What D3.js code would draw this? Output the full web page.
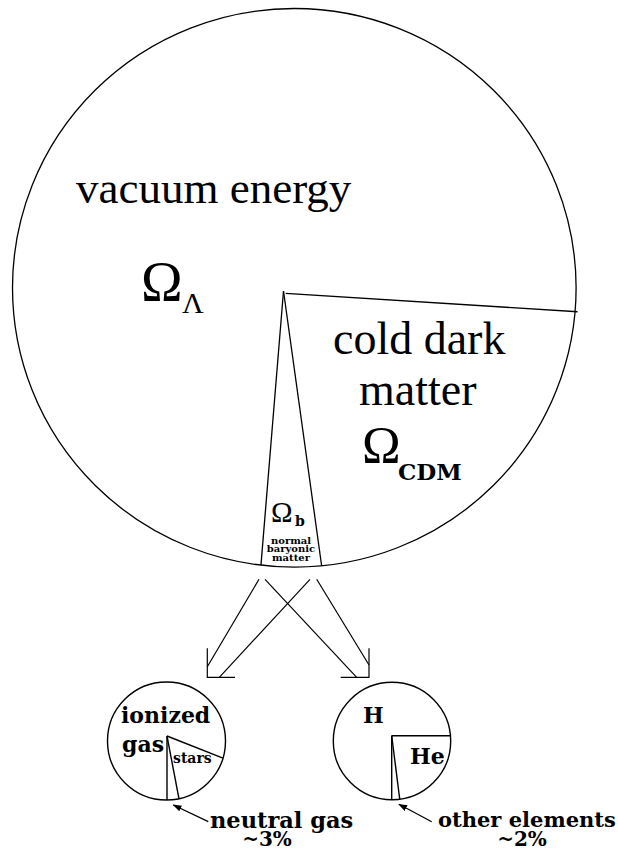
<!DOCTYPE html>
<html>
<head>
<meta charset="utf-8">
<script src="https://cdn.jsdelivr.net/npm/d3@7"></script>
<style>
  html, body { margin: 0; padding: 0; background: #fff; }
  svg { display: block; }
</style>
</head>
<body>
<svg id="chart" width="618" height="853"></svg>
<script>
// Energy budget of the universe (fractions of the whole)
const cosmicParts = ["cold dark matter", "normal baryonic matter", "vacuum energy"];
const cosmicValues = [0.218, 0.035, 0.747];

// Where the baryonic matter is found
const baryonParts = ["stars", "neutral gas", "ionized gas"];
const baryonValues = [0.16, 0.03, 0.81];

// What the baryonic matter is made of
const elementParts = ["He", "other elements", "H"];
const elementValues = [0.23, 0.02, 0.75];

const SERIF = "'Liberation Serif', 'Times New Roman', Tinos, 'Nimbus Roman', Times, serif";
const BOLD = "'DejaVu Serif', serif";

const deg = Math.PI / 180;
const svg = d3.select("#chart");
svg.append("rect").attr("width", 618).attr("height", 853).attr("fill", "#fff");

// Intersection of a ray (pie angle, clockwise from 12 o'clock) from an apex with an ellipse
function rim(apex, angle, c) {
  const dx = Math.sin(angle), dy = -Math.cos(angle);
  const ox = (apex[0] - c.cx) / c.rx, oy = (apex[1] - c.cy) / c.ry;
  const ux = dx / c.rx, uy = dy / c.ry;
  const A = ux * ux + uy * uy, B = 2 * (ox * ux + oy * uy), C = ox * ox + oy * oy - 1;
  const t = (-B + Math.sqrt(B * B - 4 * A * C)) / (2 * A);
  return [apex[0] + t * dx, apex[1] + t * dy];
}

// Draws one pie: its outline plus a spoke from the apex for every slice boundary
function drawPie(g, values, apex, outline, startAngle, opts = {}) {
  const pie = d3.pie().sort(null).value(d => d)
    .startAngle(startAngle).endAngle(startAngle + 2 * Math.PI);
  const arcs = pie(values);
  g.append("ellipse")
    .attr("cx", outline.cx).attr("cy", outline.cy)
    .attr("rx", outline.rx).attr("ry", outline.ry)
    .attr("fill", "none").attr("stroke", "#000").attr("stroke-width", opts.width || 1.3);
  const spokes = arcs.map((a, i) => ({ angle: a.startAngle, i }));
  g.selectAll("line.spoke").data(spokes).join("line")
    .attr("class", "spoke")
    .each(function (d) {
      const from = (opts.offsets && opts.offsets[d.i]) || apex;
      const to = rim(from, d.angle, outline);
      const ext = (opts.extend && opts.extend[d.i]) || 0;
      d3.select(this)
        .attr("x1", from[0]).attr("y1", from[1])
        .attr("x2", to[0] + ext * Math.sin(d.angle)).attr("y2", to[1] - ext * Math.cos(d.angle));
    })
    .attr("stroke", "#000").attr("stroke-width", opts.width || 1.3);
  return arcs;
}

// ---- main pie ----
const big = { cx: 294.3, cy: 287.8, rx: 281.8, ry: 279.3 };
const bigApex = [283.5, 291];
const bigStart = 184.7 * deg - (cosmicValues[0] + cosmicValues[1]) * 2 * Math.PI;
drawPie(svg.append("g"), cosmicValues, bigApex, big, bigStart, {
  width: 1.3,
  offsets: { 0: [285.7, 293.3] },
  extend: { 0: 2.5 }
});

// ---- small pies ----
const left = { cx: 166.5, cy: 741, rx: 59, ry: 59 };
const leftApex = [167, 736];
const leftStart = Math.PI - (baryonValues[0] + baryonValues[1]) * 2 * Math.PI;
drawPie(svg.append("g"), baryonValues, leftApex, left, leftStart, { width: 1.4 });

const right = { cx: 392, cy: 741, rx: 58.7, ry: 58.7 };
const rightApex = [391.7, 735.7];
const rightStart = Math.PI - (elementValues[0] + elementValues[1]) * 2 * Math.PI;
drawPie(svg.append("g"), elementValues, rightApex, right, rightStart, { width: 1.4 });

// ---- crossing connectors from the baryonic wedge to the two small pies ----
const conn = svg.append("g").attr("stroke", "#000").attr("stroke-width", 1.2).attr("fill", "none");
const connectors = [
  [[259, 579.3], [207.3, 666.7]],
  [[310, 579.3], [219.3, 677.3]],
  [[265, 579.3], [356.7, 677.3]],
  [[316.7, 579.3], [369, 665]]
];
conn.selectAll("line").data(connectors).join("line")
  .attr("x1", d => d[0][0]).attr("y1", d => d[0][1])
  .attr("x2", d => d[1][0]).attr("y2", d => d[1][1]);
conn.append("path").attr("d", "M207.3,648.3 V677.3 H235");
conn.append("path").attr("d", "M369,648.3 V677.3 H340.7");

// ---- pointer arrows ----
svg.append("defs").append("marker")
  .attr("id", "head").attr("viewBox", "0 0 10 10").attr("refX", 9).attr("refY", 5)
  .attr("markerWidth", 9).attr("markerHeight", 9).attr("orient", "auto")
  .attr("markerUnits", "userSpaceOnUse")
  .append("path").attr("d", "M0,1.5 L10,5 L0,8.5 Z").attr("fill", "#000");
const pointers = [
  [[208.3, 821.7], [173.3, 805]],
  [[431.7, 821.7], [399, 804.3]]
];
svg.append("g").selectAll("line").data(pointers).join("line")
  .attr("x1", d => d[0][0]).attr("y1", d => d[0][1])
  .attr("x2", d => d[1][0]).attr("y2", d => d[1][1])
  .attr("stroke", "#000").attr("stroke-width", 1.3)
  .attr("marker-end", "url(#head)");

// ---- labels ----
function label(x, y, family, size, txt, anchor, weight) {
  return svg.append("text")
    .attr("x", x).attr("y", y)
    .style("font-family", family)
    .style("font-size", size + "px")
    .style("font-weight", weight || (family === BOLD ? "bold" : "normal"))
    .attr("text-anchor", anchor || "start").text(txt);
}
label(76, 203, SERIF, 45, "vacuum energy");
label(141, 301, SERIF, 56, "Ω");
label(182, 313, SERIF, 30, "Λ");

label(333, 354, SERIF, 46, "cold dark");
label(359, 405, SERIF, 46, "matter");
label(362, 463, SERIF, 52, "Ω");
label(398, 480, BOLD, 23, "CDM");

label(271, 522, SERIF, 29, "Ω");
label(295, 526, BOLD, 14, "b");
label(291, 543.5, BOLD, 10, "normal", "middle");
label(291, 552.3, BOLD, 10, "baryonic", "middle");
label(291, 561, BOLD, 10, "matter", "middle");

label(121, 723, BOLD, 22, "ionized");
label(122, 752, BOLD, 22, "gas");
label(173, 763, BOLD, 14, "stars");
label(363, 723, BOLD, 22, "H");
label(410, 764, BOLD, 22, "He");

label(210, 828, BOLD, 22.5, "neutral gas");
label(267, 846, BOLD, 20, "~3%", "middle");
label(438, 827, BOLD, 21, "other elements");
label(522, 846, BOLD, 20, "~2%", "middle");
</script>
</body>
</html>
